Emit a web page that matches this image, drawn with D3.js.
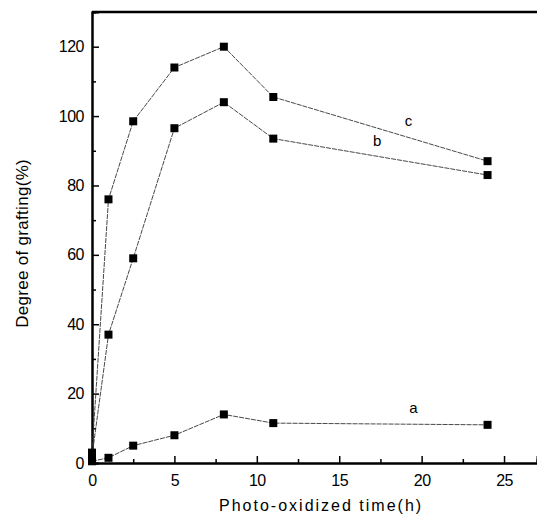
<!DOCTYPE html>
<html><head><meta charset="utf-8">
<script src="https://cdn.jsdelivr.net/npm/d3@7"></script>
<style>body{margin:0;background:#fff}svg{display:block}</style>
</head><body><svg id="c" width="537" height="516"></svg>
<script>
const times = [0, 1, 2.5, 5, 8, 11, 24];
const seriesA = [0.5, 1.5, 5, 8, 14, 11.5, 11];
const seriesB = [2, 37, 59, 96.5, 104, 93.5, 83];
const seriesC = [3, 76, 98.5, 114, 120, 105.5, 87];
const seriesNames = ["a", "b", "c"];
const xTicks = [0, 5, 10, 15, 20, 25];
const yTicks = [0, 20, 40, 60, 80, 100, 120];
const labelPos = [[19.5, 14.5], [17.3, 91.5], [19.2, 97]];

const svg = d3.select("#c");
const L = 92, R = 537, T = 12, B = 463;
const x = d3.scaleLinear().domain([0, 27]).range([L, R]);
const y = d3.scaleLinear().domain([0, 130]).range([B, T]);
const font = "'Liberation Sans', Arial, sans-serif";

// axes
svg.append("g").attr("transform", `translate(0,${B})`)
  .call(d3.axisBottom(x).tickValues(xTicks).tickSize(-7).tickPadding(12).tickFormat(d3.format("d")));
svg.append("g").attr("transform", `translate(0,${B})`)
  .call(d3.axisBottom(x).tickValues(d3.range(2.5, 27, 5)).tickSize(-4).tickFormat(""));
svg.append("g").attr("transform", `translate(${L},0)`)
  .call(d3.axisLeft(y).tickValues(yTicks).tickSize(-7).tickPadding(8).tickFormat(d3.format("d")));
svg.append("g").attr("transform", `translate(${L},0)`)
  .call(d3.axisLeft(y).tickValues(d3.range(10, 130, 20)).tickSize(-4).tickFormat(""));
svg.selectAll(".domain").attr("stroke", "#000").attr("stroke-width", 2);
svg.selectAll(".tick line").attr("stroke", "#000").attr("stroke-width", 1.5);
svg.selectAll(".tick text").attr("font-family", font).attr("font-size", 16).attr("fill", "#000")
  .attr("letter-spacing", -0.5);
svg.append("line").attr("x1", L).attr("x2", R).attr("y1", T).attr("y2", T)
  .attr("stroke", "#000").attr("stroke-width", 2.5);

// axis titles
svg.append("text").attr("x", x(13.9)).attr("y", 511).attr("text-anchor", "middle")
  .attr("font-family", font).attr("font-size", 16).attr("letter-spacing", 2)
  .text("Photo-oxidized time(h)");
svg.append("text").attr("transform", `translate(28,${y(63.3)}) rotate(-90)`).attr("text-anchor", "middle")
  .attr("font-family", font).attr("font-size", 17).attr("letter-spacing", 0.3)
  .text("Degree of grafting(%)");

const all = [seriesA, seriesB, seriesC];
const line = d3.line().x((d, i) => x(times[i])).y(d => y(d));
all.forEach((s, k) => {
  svg.append("path").datum(s).attr("d", line).attr("fill", "none")
    .attr("stroke", "#333").attr("stroke-width", 0.9).attr("stroke-dasharray", "5,1");
  svg.selectAll(null).data(s).enter().append("rect")
    .attr("x", (d, i) => x(times[i]) - 4).attr("y", d => y(d) - 4)
    .attr("width", 8).attr("height", 8).attr("fill", "#000");
  svg.append("text").attr("x", x(labelPos[k][0])).attr("y", y(labelPos[k][1]))
    .attr("text-anchor", "middle").attr("font-family", font).attr("font-size", 15)
    .text(seriesNames[k]);
});
</script></body></html>
